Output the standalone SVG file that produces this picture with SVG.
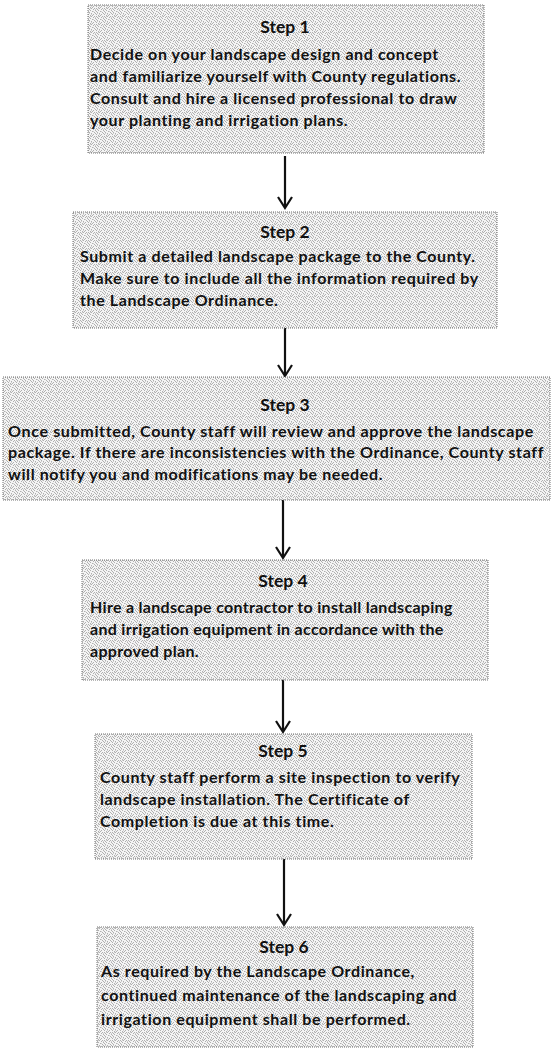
<svg xmlns="http://www.w3.org/2000/svg" width="552" height="1050" viewBox="0 0 552 1050">
<style>
.box{fill:url(#stip);stroke:#707070;stroke-width:1;stroke-dasharray:1 1}
.h{font-family:Lato,"Open Sans","Liberation Sans",sans-serif;font-weight:bold;font-size:17.5px;fill:#111;text-anchor:middle}
.t{font-family:Lato,"Open Sans","Liberation Sans",sans-serif;font-weight:bold;font-size:16px;letter-spacing:0.6px;fill:#111}
.n{letter-spacing:0.3px}
.c{stroke:#111;stroke-width:2.2;fill:none}
</style>
<defs>
<pattern id="stip" width="8" height="8" patternUnits="userSpaceOnUse">
<rect width="8" height="8" fill="#f4f4f4"/>
<g fill="#b0b0b0">
<rect x="0" y="0" width="1" height="1"/><rect x="3" y="0" width="1" height="1"/><rect x="6" y="0" width="1" height="1"/>
<rect x="1" y="1" width="1" height="1"/><rect x="5" y="1" width="1" height="1"/>
<rect x="2" y="2" width="1" height="1"/><rect x="7" y="2" width="1" height="1"/>
<rect x="0" y="3" width="1" height="1"/><rect x="4" y="3" width="1" height="1"/>
<rect x="1" y="4" width="1" height="1"/><rect x="6" y="4" width="1" height="1"/>
<rect x="3" y="5" width="1" height="1"/><rect x="7" y="5" width="1" height="1"/>
<rect x="0" y="6" width="1" height="1"/><rect x="5" y="6" width="1" height="1"/>
<rect x="2" y="7" width="1" height="1"/><rect x="4" y="7" width="1" height="1"/>
</g>
<g fill="#d0d0d0">
<rect x="2" y="0" width="1" height="1"/><rect x="7" y="1" width="1" height="1"/><rect x="5" y="3" width="1" height="1"/><rect x="3" y="6" width="1" height="1"/><rect x="1" y="5" width="1" height="1"/>
</g>
</pattern>
</defs>

<g id="connectors">
<line class="c" x1="285" y1="156" x2="285" y2="207"/>
<path class="c" d="M278,197 L285,208 L292,197"/>
<line class="c" x1="285" y1="328" x2="285" y2="375"/>
<path class="c" d="M278,365 L285,376 L292,365"/>
<line class="c" x1="283" y1="500" x2="283" y2="557"/>
<path class="c" d="M276,547 L283,558 L290,547"/>
<line class="c" x1="283" y1="680" x2="283" y2="731"/>
<path class="c" d="M276,721 L283,732 L290,721"/>
<line class="c" x1="284" y1="859" x2="284" y2="924"/>
<path class="c" d="M277,914 L284,925 L291,914"/>
</g>

<g id="step1">
<rect class="box" x="88" y="5" width="396" height="148"/>
<text class="h" x="285" y="33">Step 1</text>
<text class="t" x="90" y="60">Decide on your landscape design and concept</text>
<text class="t" x="90" y="82">and familiarize yourself with County regulations.</text>
<text class="t" x="90" y="104">Consult and hire a licensed professional to draw</text>
<text class="t" x="90" y="126">your planting and irrigation plans.</text>
</g>

<g id="step2">
<rect class="box" x="73" y="212" width="424" height="116"/>
<text class="h" x="285" y="238">Step 2</text>
<text class="t" x="80" y="262">Submit a detailed landscape package to the County.</text>
<text class="t" x="80" y="284">Make sure to include all the information required by</text>
<text class="t" x="80" y="306">the Landscape Ordinance.</text>
</g>

<g id="step3">
<rect class="box" x="3" y="377" width="547" height="123"/>
<text class="h" x="285" y="411">Step 3</text>
<text class="t" x="8" y="437" textLength="526" lengthAdjust="spacingAndGlyphs">Once submitted, County staff will review and approve the landscape</text>
<text class="t" x="8" y="458" textLength="536" lengthAdjust="spacingAndGlyphs">package. If there are inconsistencies with the Ordinance, County staff</text>
<text class="t" x="8" y="480">will notify you and modifications may be needed.</text>
</g>

<g id="step4">
<rect class="box" x="82" y="560" width="406" height="120"/>
<text class="h" x="283" y="587">Step 4</text>
<text class="t n" x="90" y="613">Hire a landscape contractor to install landscaping</text>
<text class="t n" x="90" y="635">and irrigation equipment in accordance with the</text>
<text class="t n" x="90" y="657">approved plan.</text>
</g>

<g id="step5">
<rect class="box" x="95" y="734" width="377" height="125"/>
<text class="h" x="283" y="757">Step 5</text>
<text class="t" x="100" y="783">County staff perform a site inspection to verify</text>
<text class="t" x="100" y="805">landscape installation. The Certificate of</text>
<text class="t" x="100" y="827">Completion is due at this time.</text>
</g>

<g id="step6">
<rect class="box" x="97" y="927" width="376" height="120"/>
<text class="h" x="284" y="953">Step 6</text>
<text class="t" x="101" y="977">As required by the Landscape Ordinance,</text>
<text class="t" x="101" y="1001">continued maintenance of the landscaping and</text>
<text class="t" x="101" y="1025">irrigation equipment shall be performed.</text>
</g>
</svg>
